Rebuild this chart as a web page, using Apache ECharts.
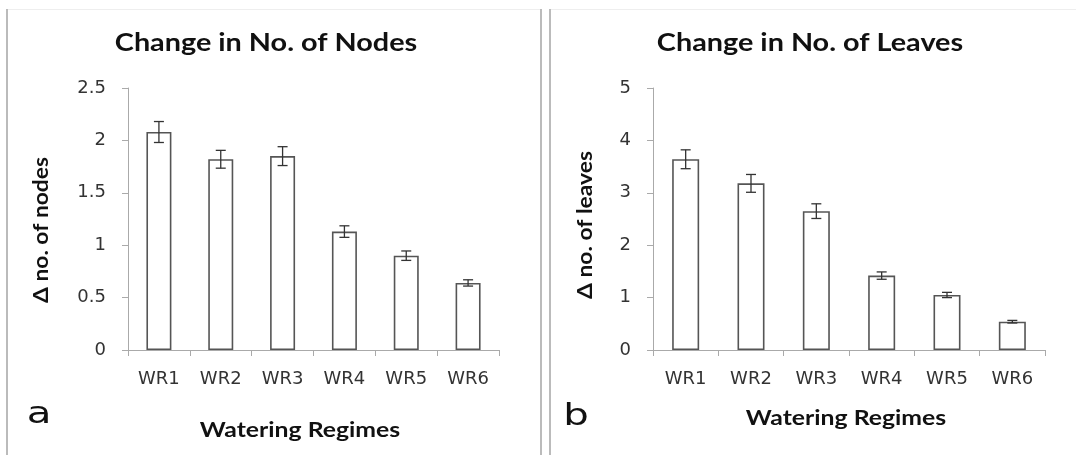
<!DOCTYPE html>
<html><head><meta charset="utf-8">
<script src="https://cdn.jsdelivr.net/npm/echarts@6/dist/echarts.min.js"></script>
<style>html,body{margin:0;padding:0;background:#fff}#c{width:1076px;height:455px}</style>
</head><body><div id="c"></div>
<script>
var categories = ['WR1','WR2','WR3','WR4','WR5','WR6'];
var nodesMean = [2.08, 1.82, 1.85, 1.13, 0.90, 0.64];
var nodesErr  = [0.10, 0.085, 0.09, 0.055, 0.045, 0.03];
var leavesMean = [3.64, 3.18, 2.65, 1.42, 1.05, 0.54];
var leavesErr  = [0.18, 0.17, 0.14, 0.07, 0.05, 0.025];
var nodesTicks = [0, 2.5, 0.5];
var leavesTicks = [0, 5, 1];

var FONT = 'Lato, "Open Sans", sans-serif';
var TFONT = '"DejaVu Sans", sans-serif';
var chart = echarts.init(document.getElementById('c'), null, {renderer:'canvas'});

function errSeries(idx, mean, err){
  return {
    type:'custom', xAxisIndex:idx, yAxisIndex:idx, z:5,
    data: mean.map(function(m,i){return [i, m-err[i], m+err[i]];}),
    renderItem:function(params, api){
      var lo = api.coord([api.value(0), api.value(1)]);
      var hi = api.coord([api.value(0), api.value(2)]);
      var w = 5;
      var st = {stroke:'#333', lineWidth:1.3};
      return {type:'group', children:[
        {type:'line', shape:{x1:hi[0],y1:hi[1],x2:lo[0],y2:lo[1]}, style:st},
        {type:'line', shape:{x1:hi[0]-w,y1:hi[1],x2:hi[0]+w,y2:hi[1]}, style:st},
        {type:'line', shape:{x1:lo[0]-w,y1:lo[1],x2:lo[0]+w,y2:lo[1]}, style:st}
      ]};
    }
  };
}
function xAx(idx){
  return {type:'category', gridIndex:idx, data:categories, boundaryGap:true,
    axisLine:{lineStyle:{color:'#aaa', width:1}},
    axisTick:{show:true, length:6, lineStyle:{color:'#aaa'}},
    axisLabel:{color:'#333', fontSize:18, fontFamily:TFONT, margin:20}};
}
function yAx(idx, t){
  return {type:'value', gridIndex:idx, min:t[0], max:t[1], interval:t[2],
    axisLine:{show:true, lineStyle:{color:'#aaa', width:1}},
    axisTick:{show:true, length:6, lineStyle:{color:'#aaa'}},
    splitLine:{show:false},
    axisLabel:{color:'#333', fontSize:18, fontFamily:TFONT, margin:22}};
}
function txt(x,y,s,size,bold,sx,rot,font){
  return {type:'text', x:x, y:y, rotation:rot||0, scaleX:sx||1,
    style:{text:s, fontSize:size, fontWeight:bold?'bold':'normal', fontFamily:font||FONT, fill:'#111', textAlign:'center', textVerticalAlign:'middle'}};
}
chart.setOption({
  animation:false,
  grid:[
    {left:128, top:88, width:371, height:262},
    {left:653, top:88, width:392, height:262}
  ],
  xAxis:[xAx(0), xAx(1)],
  yAxis:[yAx(0,nodesTicks), yAx(1,leavesTicks)],
  series:[
    {type:'bar', xAxisIndex:0, yAxisIndex:0, data:nodesMean, barWidth:25,
      itemStyle:{color:'#fff', borderColor:'#555', borderWidth:1.6}},
    errSeries(0, nodesMean, nodesErr),
    {type:'bar', xAxisIndex:1, yAxisIndex:1, data:leavesMean, barWidth:27,
      itemStyle:{color:'#fff', borderColor:'#555', borderWidth:1.6}},
    errSeries(1, leavesMean, leavesErr)
  ],
  graphic:[
    {type:'rect', shape:{x:6,y:9,width:2,height:446}, style:{fill:'#bbb'}},
    {type:'rect', shape:{x:540,y:9,width:2,height:446}, style:{fill:'#bbb'}},
    {type:'rect', shape:{x:549,y:9,width:2,height:446}, style:{fill:'#bbb'}},
    {type:'rect', shape:{x:8,y:9,width:532,height:1}, style:{fill:'#eee'}},
    {type:'rect', shape:{x:551,y:9,width:525,height:1}, style:{fill:'#eee'}},
    txt(266,43,'Change in No. of Nodes',24,true,1.2),
    txt(810,43,'Change in No. of Leaves',24,true,1.2),
    txt(42,230,'Δ no. of nodes',20,true,1.14,Math.PI/2),
    txt(586,225,'Δ no. of leaves',20,true,1.14,Math.PI/2),
    txt(300,430,'Watering Regimes',21,true,1.18),
    txt(846,418,'Watering Regimes',21,true,1.18),
    txt(39,415,'a',31,false,1.3,0,TFONT),
    txt(576,417,'b',31,false,1.3,0,TFONT)
  ]
});
</script></body></html>
